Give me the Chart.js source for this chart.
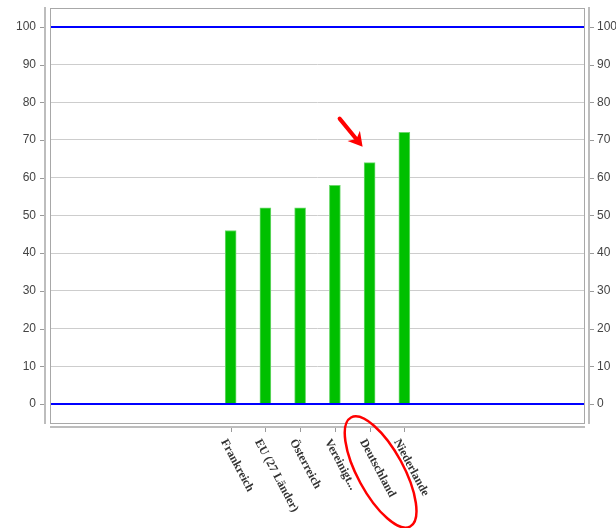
<!DOCTYPE html>
<html><head><meta charset="utf-8">
<script src="https://cdn.jsdelivr.net/npm/chart.js@4/dist/chart.umd.min.js"></script>
<style>html,body{margin:0;padding:0;background:#fff}#wrap{width:616px;height:528px}</style>
</head><body><div id="wrap"><canvas id="c" width="616" height="528"></canvas></div>
<script>
const categories = ['Frankreich', 'EU (27 Länder)', 'Österreich', 'Vereinigt...', 'Deutschland', 'Niederlande'];
const values = [46, 52, 52, 58, 64, 72];
const yTicks = [0, 10, 20, 30, 40, 50, 60, 70, 80, 90, 100];
const highlighted = 'Deutschland';

const tickFont = { family: '"Liberation Sans", Arial, sans-serif', size: 12 };

const framePlugin = {
  id: 'frame',
  afterDatasetsDraw(chart) {
    const { ctx, chartArea: a, scales } = chart;
    const y = scales.y;
    ctx.save();
    ctx.strokeStyle = '#0000ff';
    ctx.lineWidth = 2;
    [0, 100].forEach(v => {
      const py = Math.round(y.getPixelForValue(v));
      ctx.beginPath(); ctx.moveTo(a.left, py); ctx.lineTo(a.right, py); ctx.stroke();
    });
    ctx.restore();
  },
  afterDraw(chart) {
    const { ctx, chartArea: a, scales } = chart;
    const x = scales.x, y = scales.y;
    ctx.save();
    ctx.strokeStyle = '#a8a8a8';
    ctx.lineWidth = 1;
    ctx.strokeRect(a.left + 0.5, a.top + 0.5, a.right - a.left - 1, a.bottom - a.top);
    ctx.fillStyle = '#bdbdbd';
    ctx.fillRect(a.left - 6, a.top - 1, 2, a.bottom - a.top + 2);
    ctx.fillRect(a.right + 3, a.top - 1, 2, a.bottom - a.top + 2);
    ctx.fillRect(a.left, a.bottom + 3, a.right - a.left, 2);
    ctx.strokeStyle = '#9a9a9a';
    ctx.lineWidth = 1;
    yTicks.forEach(v => {
      const py = Math.round(y.getPixelForValue(v)) + 0.5;
      ctx.beginPath(); ctx.moveTo(a.left - 10, py); ctx.lineTo(a.left - 6, py); ctx.stroke();
      ctx.beginPath(); ctx.moveTo(a.right + 5, py); ctx.lineTo(a.right + 9, py); ctx.stroke();
    });
    ctx.font = 'bold 12px "Liberation Serif", "Times New Roman", serif';
    ctx.fillStyle = '#333';
    ctx.textAlign = 'left';
    ctx.textBaseline = 'middle';
    const ang = 62 * Math.PI / 180;
    categories.forEach((c, i) => {
      const px = Math.round(x.getPixelForValue(i)) + 0.5;
      ctx.beginPath(); ctx.moveTo(px, a.bottom + 5); ctx.lineTo(px, a.bottom + 9); ctx.stroke();
      ctx.save();
      ctx.translate(px - 8, a.bottom + 17);
      ctx.rotate(ang);
      ctx.fillText(c, 0, 0);
      ctx.restore();
    });
    const hi = categories.indexOf(highlighted);
    const hx = x.getPixelForValue(hi);
    const hy = y.getPixelForValue(values[hi]);
    ctx.strokeStyle = '#ff0000';
    ctx.fillStyle = '#ff0000';
    const tipX = hx - 7, tipY = hy - 16;
    const tailX = tipX - 23, tailY = tipY - 28;
    const dx = tipX - tailX, dy = tipY - tailY, L = Math.hypot(dx, dy);
    const ux = dx / L, uy = dy / L;
    ctx.lineWidth = 4;
    ctx.lineCap = 'round';
    ctx.beginPath(); ctx.moveTo(tailX, tailY); ctx.lineTo(tipX - ux * 8, tipY - uy * 8); ctx.stroke();
    const hl = 14, hw = 8;
    ctx.beginPath();
    ctx.moveTo(tipX, tipY);
    ctx.lineTo(tipX - ux * hl - uy * hw, tipY - uy * hl + ux * hw);
    ctx.lineTo(tipX - ux * hl * 0.7, tipY - uy * hl * 0.7);
    ctx.lineTo(tipX - ux * hl + uy * hw, tipY - uy * hl - ux * hw);
    ctx.closePath();
    ctx.fill();
    ctx.lineWidth = 2.5;
    ctx.beginPath();
    ctx.ellipse(hx + 11, a.bottom + 49, 62, 23, 61.5 * Math.PI / 180, 0, Math.PI * 2);
    ctx.stroke();
    ctx.restore();
  }
};

const fitY = w => s => { s.width = w; s.paddingTop = 0; s.paddingBottom = 0; };

new Chart(document.getElementById('c'), {
  type: 'bar',
  data: {
    datasets: [{
      data: values.map((v, i) => ({ x: i, y: v })),
      backgroundColor: '#00c000',
      borderColor: '#6cd86c',
      borderWidth: 1,
      barThickness: 11
    }]
  },
  options: {
    responsive: false,
    animation: false,
    devicePixelRatio: 1,
    layout: { padding: { top: 8, bottom: 105, left: 0, right: 0 } },
    plugins: { legend: { display: false }, tooltip: { enabled: false } },
    scales: {
      x: { type: 'linear', min: -5.2, max: 10.2, offset: false, display: false },
      y: {
        position: 'left', min: -5.04, max: 105,
        afterBuildTicks: s => { s.ticks = yTicks.map(v => ({ value: v })); },
        afterFit: fitY(50),
        border: { display: false },
        grid: { drawTicks: false, color: c => (c.tick && (c.tick.value === 0 || c.tick.value === 100)) ? 'rgba(0,0,0,0)' : '#cdcdcd', lineWidth: 1 },
        ticks: { padding: 14, color: '#444', font: tickFont }
      },
      y2: {
        position: 'right', min: -5.04, max: 105,
        afterBuildTicks: s => { s.ticks = yTicks.map(v => ({ value: v })); },
        afterFit: fitY(31),
        border: { display: false },
        grid: { display: false, drawTicks: false },
        ticks: { padding: 12, color: '#444', font: tickFont }
      }
    }
  },
  plugins: [framePlugin]
});
</script>
</body></html>
